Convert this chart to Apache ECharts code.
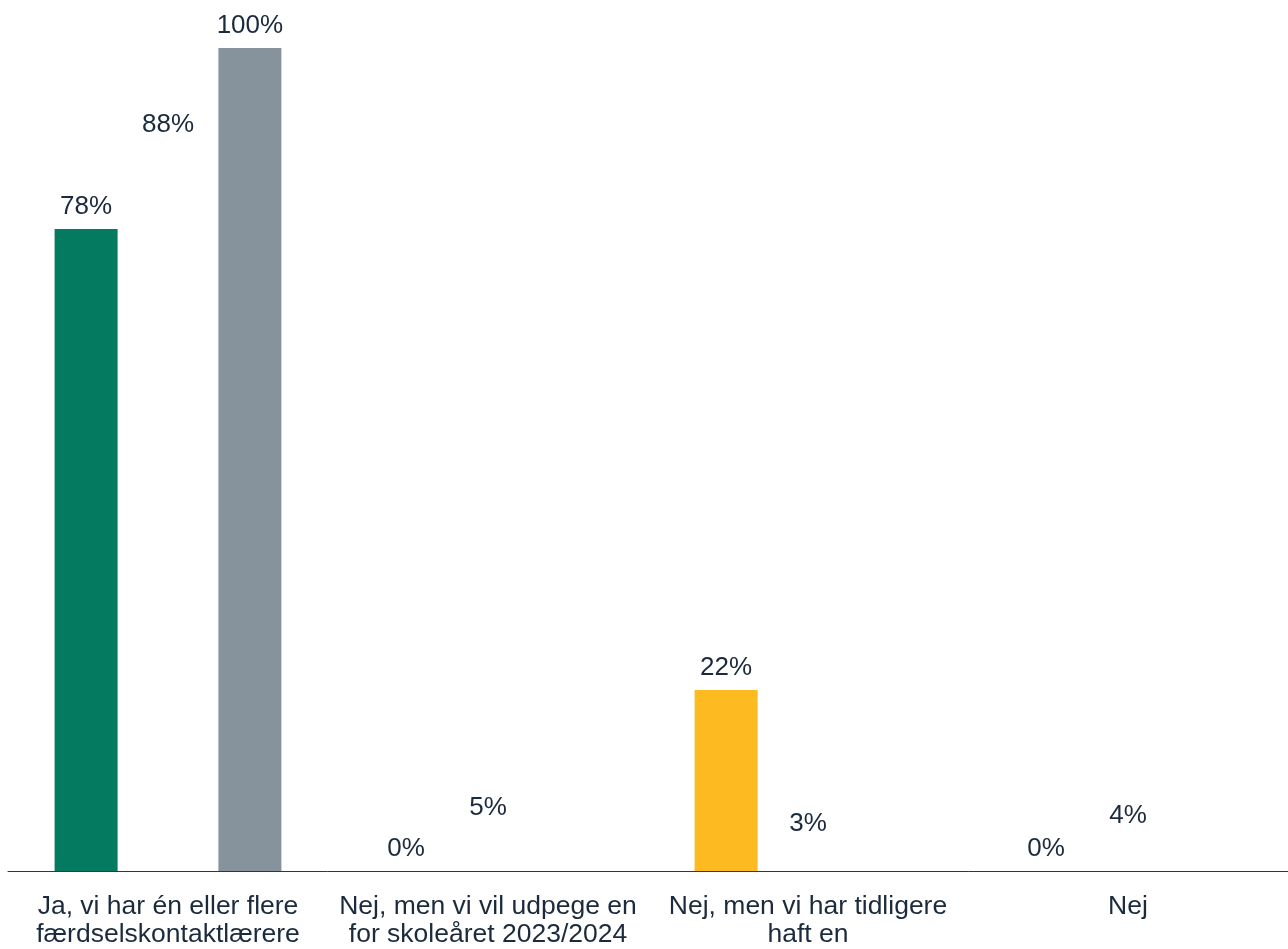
<!DOCTYPE html>
<html>
<head>
<meta charset="utf-8">
<script src="https://cdn.jsdelivr.net/npm/echarts@6/dist/echarts.min.js"></script>
<style>
html,body{margin:0;padding:0;background:#fff;}
#chart{width:1288px;height:949px;}
</style>
</head>
<body>
<div id="chart"></div>
<script>
const categories = [
  "Ja, vi har én eller flere\nfærdselskontaktlærere",
  "Nej, men vi vil udpege en\nfor skoleåret 2023/2024",
  "Nej, men vi har tidligere\nhaft en",
  "Nej"
];
const seriesA = [78, 0, 22, 0];
const seriesAColors = ["#047a60", "#047a60", "#fdba21", "#fdba21"];
const seriesB = [88, 5, 3, 4];
const seriesC = [100, null, null, null];

const textColor = "#1b2a3c";
const labelStyle = {
  show: true, position: "top", distance: 9,
  fontFamily: "Liberation Sans, Arial, sans-serif", fontSize: 26, color: textColor,
  formatter: p => p.value == null ? "" : p.value + "%"
};

const chart = echarts.init(document.getElementById("chart"));
chart.setOption({
  animation: false,
  grid: { left: 8, right: 0, top: 48, bottom: 76, containLabel: false },
  xAxis: {
    type: "category", data: categories,
    axisLine: { lineStyle: { color: "#2a3847", width: 1 } },
    axisTick: { show: false },
    axisLabel: {
      interval: 0, margin: 22, fontFamily: "Liberation Sans, Arial, sans-serif",
      fontSize: 26.5, lineHeight: 28, color: textColor
    }
  },
  yAxis: { type: "value", min: 0, max: 100, show: false, splitLine: { show: false } },
  series: [
    {
      type: "bar", barWidth: 63, barGap: "30%",
      data: seriesA.map((v, i) => ({ value: v, itemStyle: { color: seriesAColors[i] } })),
      label: labelStyle
    },
    {
      type: "bar", barWidth: 63, barGap: "30%",
      data: seriesB, itemStyle: { color: "rgba(255,255,255,0)" },
      label: labelStyle
    },
    {
      type: "bar", barWidth: 63, barGap: "30%",
      data: seriesC, itemStyle: { color: "#87939c" },
      label: labelStyle
    }
  ]
});
</script>
</body>
</html>
